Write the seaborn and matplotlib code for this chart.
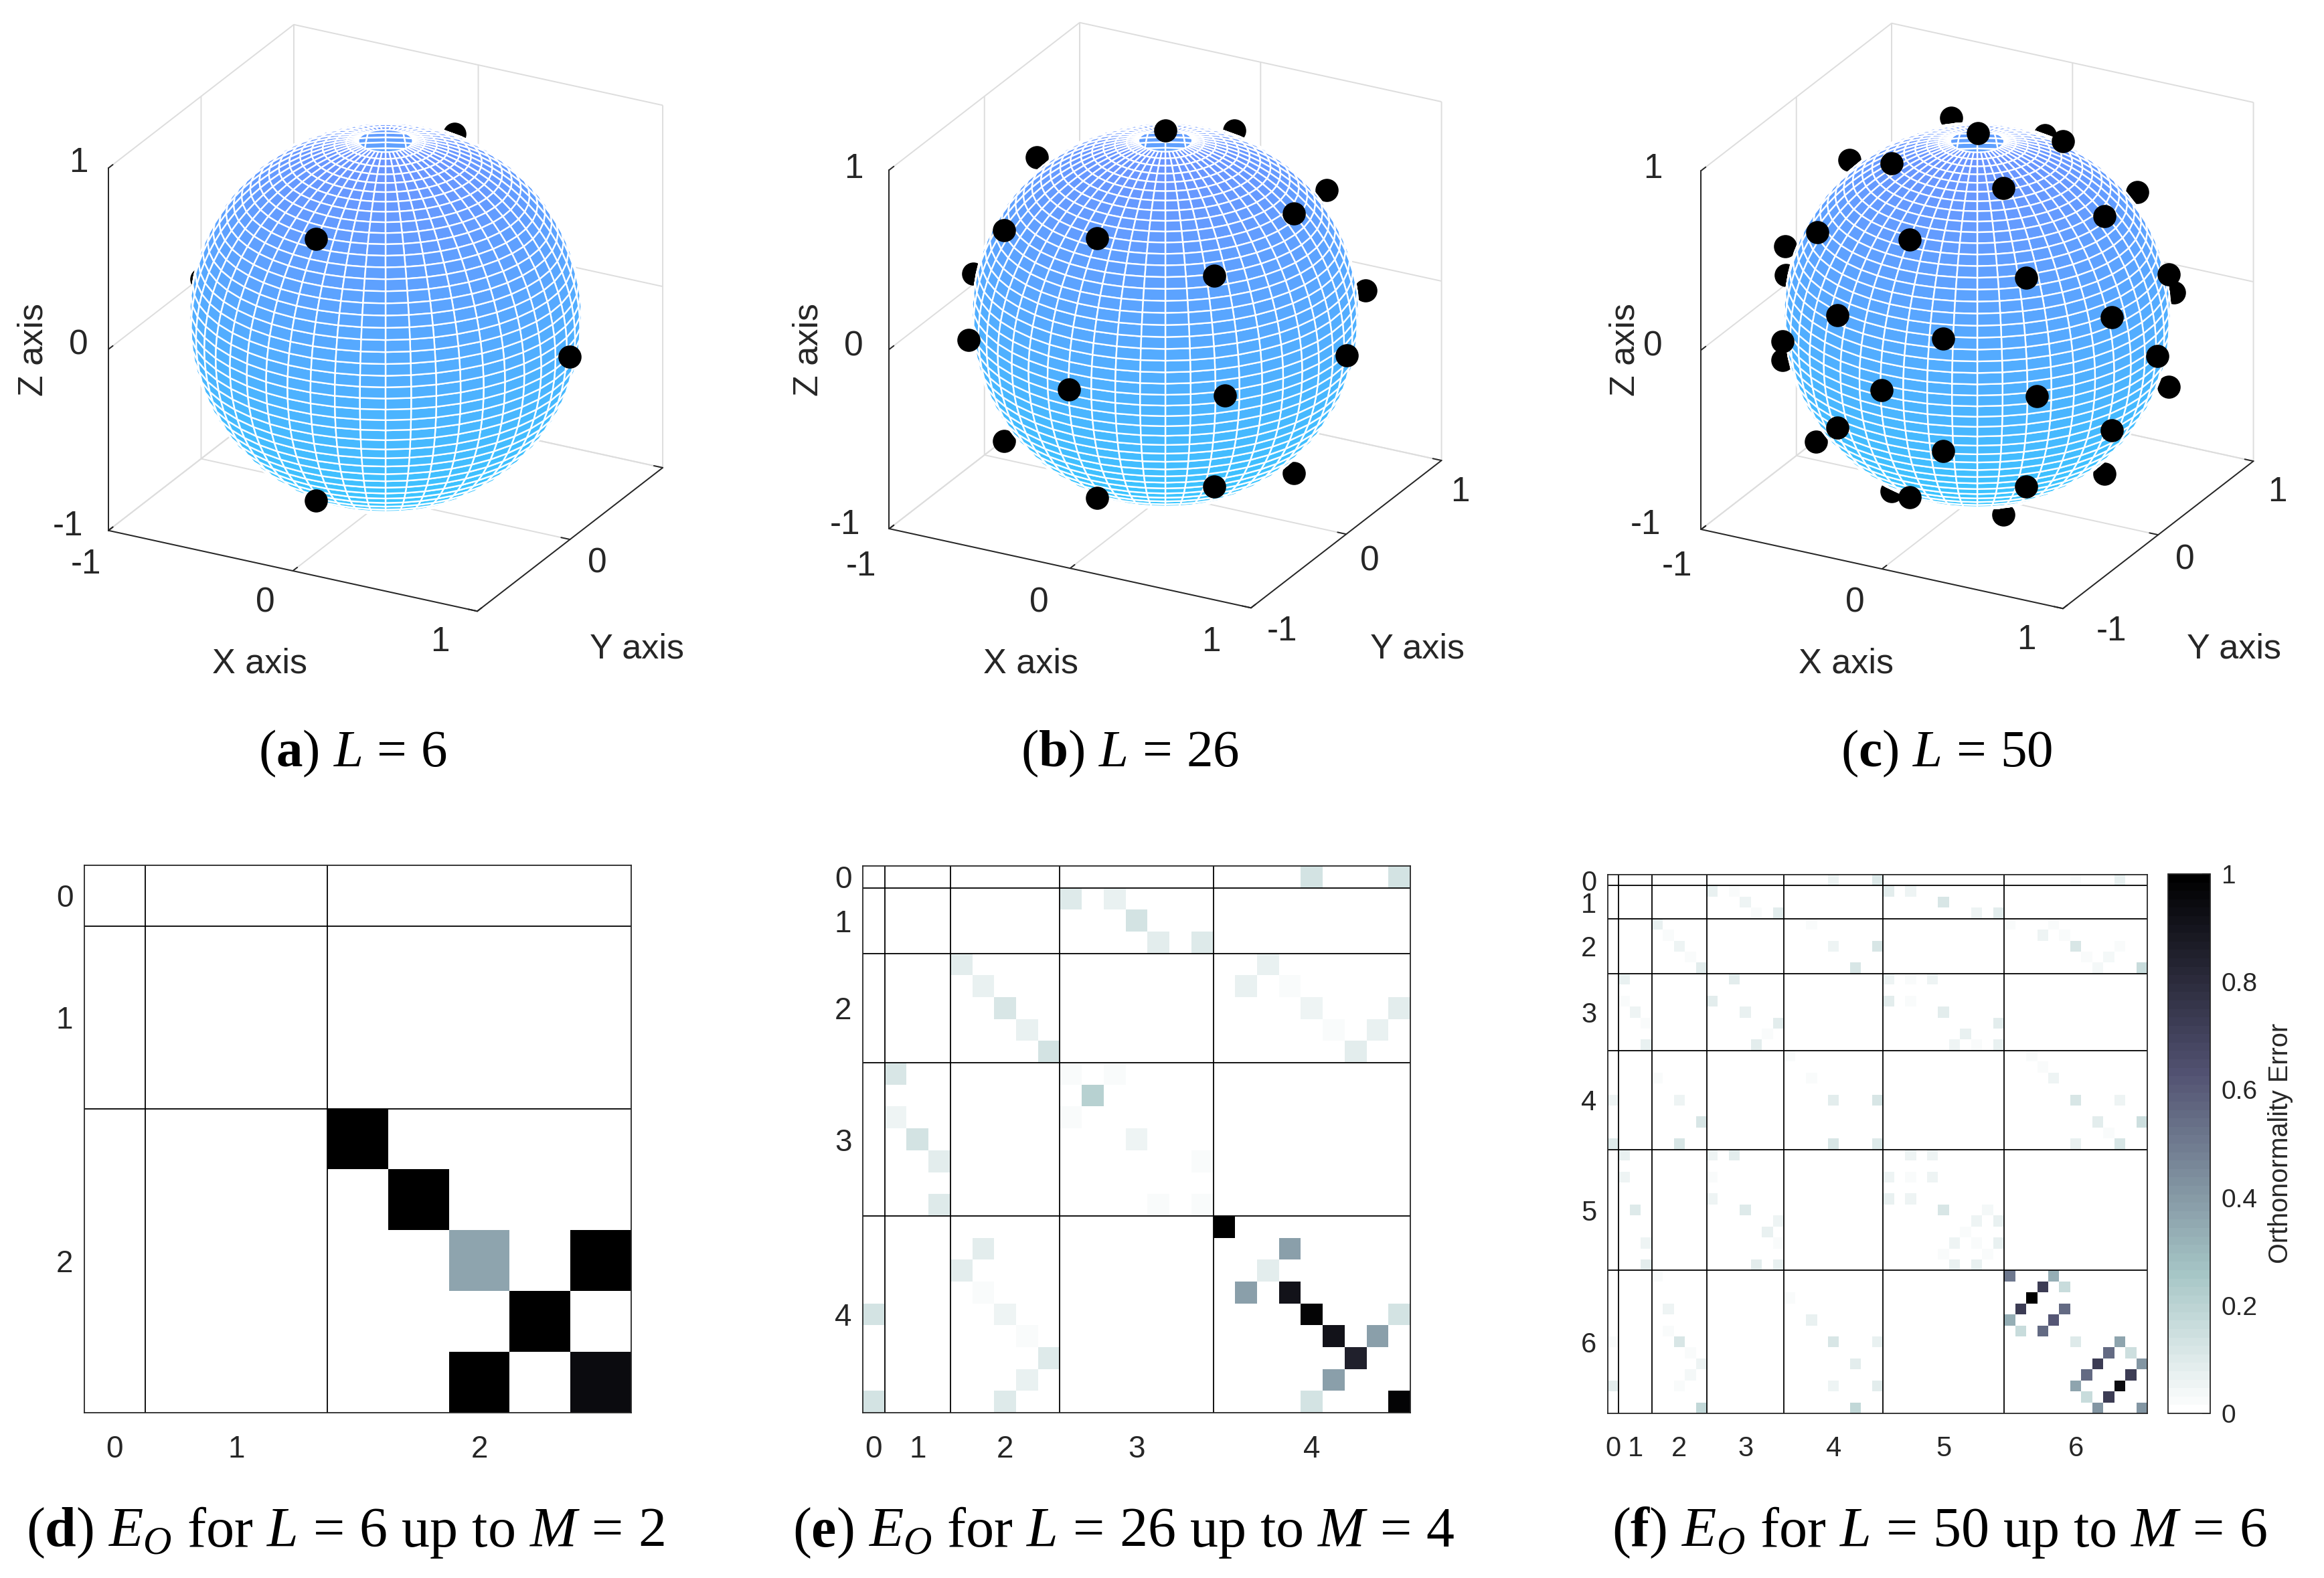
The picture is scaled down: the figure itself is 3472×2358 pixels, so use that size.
"""Sampling nodes on the sphere and orthonormality error matrices."""

from __future__ import annotations

import matplotlib

matplotlib.use("Agg")
import matplotlib.pyplot as plt
import numpy as np
import seaborn as sns
from matplotlib.colors import Normalize

WIDTH, HEIGHT = 3473, 2358
DARK = "#262626"

# Nodes as seen on the picture: right and up from the sphere centre, in sphere radii.
NODES_A_RIGHT = [-0.355, 0.938, -0.355]
NODES_A_UP = [0.403, -0.198, -0.932]
HIDDEN_A_RIGHT = [0.352, 0.355, -0.938]
HIDDEN_A_UP = [0.938, -0.403, 0.198]

NODES_B_RIGHT = [0.0, 0.663, -0.353, -0.832, 0.253, -1.016, 0.938, -0.499, 0.309, 0.253, -0.353]
NODES_B_UP = [0.955, 0.526, 0.397, 0.439, 0.204, -0.127, -0.206, -0.384, -0.415, -0.884, -0.943]
HIDDEN_B_RIGHT = [0.355, -0.663, 0.832, 1.034, -0.832, 0.663, -0.992]
HIDDEN_B_UP = [0.955, 0.816, 0.648, 0.129, -0.650, -0.817, 0.213]

NODES_C_RIGHT = [0.002, -0.443, 0.134, 0.658, -0.827, -0.351, 0.252, -0.723, 0.696, -0.176, 0.931,
                 -1.007, -0.495, 0.307, -0.723, 0.696, -0.176, 0.252, -0.351, 0.988, 0.443]
NODES_C_UP = [0.946, 0.788, 0.661, 0.517, 0.434, 0.393, 0.198, 0.002, -0.007, -0.117, -0.207,
              -0.132, -0.385, -0.415, -0.578, -0.590, -0.700, -0.883, -0.939, 0.215, 0.902]
HIDDEN_C_RIGHT = [-0.136, 0.349, -0.661, -0.993, 1.017, 0.827, -1.007, 0.988, -0.832, 0.658, -0.443, 0.134, -0.99]
HIDDEN_C_UP = [1.024, 0.934, 0.805, 0.361, 0.122, 0.641, -0.229, -0.366, -0.651, -0.815, -0.907, -1.029, 0.21]

# Error matrices: (row, column, value), everything else is 0.
CELLS_D = [(4, 4, 1.0), (5, 5, 1.0), (6, 6, 0.37), (6, 8, 1.0), (7, 7, 1.0), (8, 6, 1.0), (8, 8, 0.95)]
CELLS_E = [
    (0, 20, 0.13), (0, 24, 0.13), (1, 9, 0.1), (1, 11, 0.07), (2, 12, 0.13), (3, 13, 0.08), (3, 15, 0.1),
    (4, 4, 0.08), (4, 18, 0.07), (5, 5, 0.07), (5, 17, 0.07), (5, 19, 0.03), (6, 6, 0.12), (6, 20, 0.06),
    (6, 24, 0.08), (7, 7, 0.07), (7, 21, 0.03), (7, 23, 0.07), (8, 8, 0.13), (8, 22, 0.09), (9, 1, 0.11),
    (9, 9, 0.03), (9, 11, 0.03), (10, 10, 0.21), (11, 1, 0.06), (11, 9, 0.03), (11, 11, 0.015), (12, 2, 0.13),
    (12, 12, 0.06), (13, 3, 0.08), (13, 13, 0.015), (13, 15, 0.03), (15, 3, 0.1), (15, 13, 0.03), (15, 15, 0.03),
    (16, 16, 1.0), (17, 5, 0.08), (17, 17, 0.015), (17, 19, 0.38), (18, 4, 0.08), (18, 18, 0.09), (19, 5, 0.03),
    (19, 17, 0.38), (19, 19, 0.92), (20, 0, 0.14), (20, 6, 0.05), (20, 20, 0.98), (20, 24, 0.14), (21, 7, 0.03),
    (21, 21, 0.92), (21, 23, 0.38), (22, 8, 0.1), (22, 22, 0.85), (23, 7, 0.07), (23, 21, 0.38), (23, 23, 0.015),
    (24, 0, 0.13), (24, 6, 0.1), (24, 20, 0.13), (24, 24, 0.97),
]
CELLS_F = [
    (0, 20, 0.05), (0, 24, 0.1), (0, 42, 0.02), (0, 46, 0.07),
    (1, 9, 0.07), (1, 11, 0.03), (1, 25, 0.08), (1, 27, 0.06), (1, 29, 0.015),
    (2, 12, 0.05), (2, 30, 0.11),
    (3, 13, 0.03), (3, 15, 0.08), (3, 31, 0.015), (3, 33, 0.06), (3, 35, 0.09),
    (4, 4, 0.07), (4, 18, 0.03), (4, 36, 0.03), (4, 40, 0.02),
    (5, 5, 0.03), (5, 39, 0.05), (5, 41, 0.03),
    (6, 6, 0.05), (6, 20, 0.05), (6, 24, 0.11), (6, 42, 0.11), (6, 46, 0.03),
    (7, 7, 0.03), (7, 43, 0.03), (7, 45, 0.04),
    (8, 8, 0.08), (8, 22, 0.11), (8, 44, 0.04), (8, 48, 0.17),
    (9, 1, 0.07), (9, 9, 0.015), (9, 11, 0.08), (9, 25, 0.06), (9, 27, 0.03), (9, 29, 0.05),
    (10, 10, 0.015),
    (11, 1, 0.03), (11, 9, 0.08), (11, 11, 0.015), (11, 25, 0.08), (11, 27, 0.02),
    (12, 2, 0.05), (12, 12, 0.07), (12, 30, 0.08), (12, 34, 0.015),
    (13, 3, 0.03), (13, 13, 0.015), (13, 15, 0.08), (13, 33, 0.015), (13, 35, 0.08),
    (14, 14, 0.03), (14, 32, 0.07),
    (15, 3, 0.07), (15, 13, 0.08), (15, 15, 0.015), (15, 31, 0.05), (15, 33, 0.03), (15, 35, 0.07),
    (16, 16, 0.03), (16, 38, 0.03),
    (17, 17, 0.015), (17, 19, 0.015), (17, 37, 0.015), (17, 39, 0.03), (17, 41, 0.015),
    (18, 4, 0.03), (18, 18, 0.03), (18, 40, 0.06),
    (19, 17, 0.015), (19, 37, 0.015), (19, 39, 0.015), (19, 41, 0.015),
    (20, 0, 0.05), (20, 6, 0.06), (20, 20, 0.08), (20, 24, 0.11), (20, 42, 0.12), (20, 46, 0.05),
    (21, 23, 0.015), (21, 43, 0.015), (21, 45, 0.015), (21, 47, 0.015),
    (22, 8, 0.12), (22, 22, 0.015), (22, 44, 0.08), (22, 48, 0.15),
    (23, 21, 0.015), (23, 23, 0.015), (23, 43, 0.015), (23, 45, 0.03), (23, 47, 0.015),
    (24, 0, 0.1), (24, 6, 0.11), (24, 20, 0.11), (24, 24, 0.1), (24, 42, 0.07), (24, 46, 0.11),
    (25, 1, 0.07), (25, 9, 0.06), (25, 11, 0.08), (25, 25, 0.015), (25, 27, 0.06), (25, 29, 0.06),
    (27, 1, 0.06), (27, 9, 0.03), (27, 11, 0.015), (27, 25, 0.06), (27, 27, 0.03), (27, 29, 0.05),
    (28, 28, 0.015),
    (29, 1, 0.015), (29, 9, 0.05), (29, 25, 0.07), (29, 27, 0.05), (29, 29, 0.015),
    (30, 2, 0.1), (30, 12, 0.1), (30, 30, 0.11), (30, 34, 0.04),
    (31, 3, 0.015), (31, 15, 0.05), (31, 31, 0.015), (31, 33, 0.05), (31, 35, 0.07),
    (32, 14, 0.07), (32, 32, 0.03),
    (33, 3, 0.06), (33, 13, 0.015), (33, 15, 0.03), (33, 31, 0.05), (33, 33, 0.03), (33, 35, 0.07),
    (34, 12, 0.015), (34, 30, 0.03), (34, 34, 0.03),
    (35, 3, 0.09), (35, 13, 0.08), (35, 15, 0.07), (35, 31, 0.07), (35, 33, 0.07), (35, 35, 0.015),
    (36, 4, 0.03), (36, 36, 0.5), (36, 40, 0.33),
    (37, 17, 0.015), (37, 19, 0.015), (37, 39, 0.72), (37, 41, 0.16),
    (38, 16, 0.03), (38, 38, 1.0),
    (39, 5, 0.05), (39, 19, 0.015), (39, 37, 0.72), (39, 41, 0.56),
    (40, 4, 0.015), (40, 18, 0.07), (40, 36, 0.33), (40, 40, 0.62),
    (41, 5, 0.03), (41, 17, 0.015), (41, 19, 0.015), (41, 37, 0.16), (41, 39, 0.56), (41, 41, 0.015),
    (42, 0, 0.03), (42, 6, 0.11), (42, 20, 0.11), (42, 24, 0.07), (42, 42, 0.1), (42, 46, 0.37),
    (43, 7, 0.03), (43, 21, 0.015), (43, 43, 0.015), (43, 45, 0.56), (43, 47, 0.15),
    (44, 8, 0.05), (44, 22, 0.08), (44, 44, 0.72), (44, 48, 0.42),
    (45, 7, 0.04), (45, 21, 0.015), (45, 23, 0.015), (45, 43, 0.56), (45, 47, 0.72),
    (46, 0, 0.08), (46, 6, 0.03), (46, 20, 0.05), (46, 24, 0.09), (46, 42, 0.37), (46, 46, 0.95),
    (47, 21, 0.015), (47, 23, 0.015), (47, 43, 0.16), (47, 45, 0.72),
    (48, 8, 0.18), (48, 22, 0.18), (48, 44, 0.42), (48, 48, 0.42),
]

CBAR_TICKS = [0, 0.2, 0.4, 0.6, 0.8, 1]
CBAR_LABELS = ["0", "0.2", "0.4", "0.6", "0.8", "1"]
AXIS_TICKS = [-1, 0, 1]

ELEV, AZIM = 24.3, -62.0
OVERVIEW = 3473 / 1568

# Tick labels of the sphere panels, placed by hand as in the reference (shrunk picture coordinates).
TICK_TEXT_A = [("-1", 58, 381), ("0", 179, 407), ("1", 297, 433), ("0", 403, 380),
               ("1", 53, 110), ("0", 53, 233), ("-1", 46, 355)]
TICK_TEXT_B = [("-1", 581, 382), ("0", 701, 407), ("1", 817, 433), ("-1", 865, 426), ("0", 924, 379),
               ("1", 985, 332), ("1", 576, 114), ("0", 576, 234), ("-1", 570, 354)]
TICK_TEXT_C = [("-1", 1131, 382), ("0", 1251, 407), ("1", 1367, 432), ("-1", 1424, 426), ("0", 1474, 378),
               ("1", 1536, 332), ("1", 1115, 114), ("0", 1115, 234), ("-1", 1110, 354)]


def add_rect(left, top, right, bottom, **kwargs):
    return plt.gcf().add_axes(
        [left / WIDTH, 1 - bottom / HEIGHT, (right - left) / WIDTH, (bottom - top) / HEIGHT], **kwargs
    )


def text_at(x, y, label, **kwargs):
    kwargs.setdefault("color", DARK)
    plt.gcf().text(x / WIDTH, 1 - y / HEIGHT, label, ha="center", va="center", **kwargs)


def view_basis():
    az, el = np.radians(AZIM), np.radians(ELEV)
    right = np.array([-np.sin(az), np.cos(az), 0.0])
    up = np.array([-np.sin(el) * np.cos(az), -np.sin(el) * np.sin(az), np.cos(el)])
    toward = np.array([np.cos(el) * np.cos(az), np.cos(el) * np.sin(az), np.sin(el)])
    return right, up, toward


def to_data(u, v, sign, box):
    right, up, toward = view_basis()
    u, v = np.asarray(u), np.asarray(v)
    w = sign * np.sqrt(np.clip(1.0 - u**2 - v**2, 0.02, None))
    pts = np.outer(u, right) + np.outer(v, up) + np.outer(w, toward)
    return (pts / box).T


def sphere_panel(center, scale, radius, front, hidden):
    cx, cy = center
    side = 1040
    left = cx - side / 2 - 0.0135 * side
    top = cy - side / 2 + 0.0145 * side
    ax = add_rect(left, top, left + side, top + side, projection="3d", computed_zorder=False)
    ax.set_proj_type("ortho")
    ax.view_init(elev=ELEV, azim=AZIM)
    ax.set_facecolor("none")
    scale = np.array(scale, dtype=float)
    box = scale / radius
    ax.set_box_aspect(scale.copy(), zoom=1013 / side * (np.linalg.norm(scale) / 521.6))

    ax.set_xlim(-1, 1, view_margin=0)
    ax.set_ylim(-1, 1, view_margin=0)
    ax.set_zlim(-1, 1, view_margin=0)
    ax.set_xticks(AXIS_TICKS)
    ax.set_yticks(AXIS_TICKS)
    ax.set_zticks(AXIS_TICKS)
    ax.set_xticklabels([])
    ax.set_yticklabels([])
    ax.set_zticklabels([])
    ax.zaxis.set_ticks_position("lower")
    for axis in (ax.xaxis, ax.yaxis, ax.zaxis):
        axis.set_pane_color((1, 1, 1, 0))
        axis.pane.set_edgecolor("#dddddd")
        axis.pane.set_linewidth(1.4)
        axis.line.set_color(DARK)
        axis.line.set_linewidth(1.4)
        axis._axinfo["tick"].update(inward_factor=0.0, outward_factor=0.3, color=DARK)
        axis._axinfo["tick"]["linewidth"] = {True: 1.4, False: 1.0}
        axis.set_tick_params(color=DARK, width=1.4)

    step = 360.0 / 48
    lon = np.radians(AZIM + step * np.arange(49))
    lat = np.radians(np.linspace(-82, 82, 47))
    grid_lon, grid_lat = np.meshgrid(lon, lat)
    sx = np.cos(grid_lat) * np.cos(grid_lon) / box[0]
    sy = np.cos(grid_lat) * np.sin(grid_lon) / box[1]
    sz = np.sin(grid_lat) / box[2]
    colors = plt.get_cmap("cool")(Normalize(-2.82, 6.27)(sz))

    hx, hy, hz = to_data(hidden[0], hidden[1], -1, box)
    ax.scatter(hx, hy, hz, s=620, c="black", depthshade=False, linewidths=0, zorder=3)
    ax.plot_surface(sx, sy, sz, rstride=1, cstride=1, facecolors=colors, edgecolor="white",
                    linewidth=1.7, shade=False, zorder=4)
    fx, fy, fz = to_data(front[0], front[1], 1, box)
    ax.scatter(fx, fy, fz, s=620, c="black", depthshade=False, linewidths=0, zorder=5)
    return ax


def heatmap_panel(rect, n, cells, blocks, ticks, labelsize, cbar_ax=None):
    ax = add_rect(*rect)
    matrix = np.zeros((n, n))
    for row, col, value in cells:
        matrix[row, col] = value
    sns.heatmap(matrix, ax=ax, cmap=plt.get_cmap("bone_r", 64), vmin=0, vmax=1, square=False,
                xticklabels=False, yticklabels=False, cbar=cbar_ax is not None, cbar_ax=cbar_ax)
    ax.hlines(blocks, 0, n, color="black", linewidth=1.3)
    ax.vlines(blocks, 0, n, color="black", linewidth=1.3)
    ax.set_xticks(ticks)
    ax.set_yticks(ticks)
    ax.set_xticklabels(range(len(ticks)))
    ax.set_yticklabels(range(len(ticks)), rotation=0)
    ax.tick_params(direction="in", length=9, width=1.2, color=DARK, top=True, right=True, bottom=True, left=True,
                   labelsize=labelsize, labelcolor=DARK)
    ax.tick_params(axis="x", pad=24)
    ax.tick_params(axis="y", pad=12)
    for spine in ax.spines.values():
        spine.set_visible(True)
        spine.set_color(DARK)
        spine.set_linewidth(1.3)
    return ax


def main() -> int:
    sns.set_theme(style="white")
    plt.rcParams["font.family"] = ["Liberation Sans", "DejaVu Sans"]
    plt.rcParams["mathtext.fontset"] = "custom"
    plt.rcParams["mathtext.rm"] = "Liberation Serif"
    plt.rcParams["mathtext.it"] = "Liberation Serif:italic"
    plt.rcParams["mathtext.bf"] = "Liberation Serif:bold"
    plt.rcParams["grid.color"] = "#dddddd"
    plt.rcParams["grid.linewidth"] = 1.4
    plt.rcParams["axes3d.grid"] = True
    plt.figure(figsize=(WIDTH / 100, HEIGHT / 100), dpi=100, facecolor="white")

    sphere_panel((576, 474), (312, 295, 297), 293, (NODES_A_RIGHT, NODES_A_UP), (HIDDEN_A_RIGHT, HIDDEN_A_UP))
    sphere_panel((1741, 470), (306, 303, 294), 289, (NODES_B_RIGHT, NODES_B_UP), (HIDDEN_B_RIGHT, HIDDEN_B_UP))
    sphere_panel((2954, 471), (306, 303, 294), 289, (NODES_C_RIGHT, NODES_C_UP), (HIDDEN_C_RIGHT, HIDDEN_C_UP))

    for label, x, y in TICK_TEXT_A + TICK_TEXT_B + TICK_TEXT_C:
        text_at(x * OVERVIEW, y * OVERVIEW, label, fontsize=37)

    for x, y, label, rotation in [
        (388, 992, "X axis", 0), (952, 970, "Y axis", 0), (50, 522, "Z axis", 90),
        (1540, 992, "X axis", 0), (2118, 970, "Y axis", 0), (1208, 522, "Z axis", 90),
        (2758, 992, "X axis", 0), (3338, 970, "Y axis", 0), (2428, 522, "Z axis", 90),
    ]:
        text_at(x, y, label, fontsize=37.5, rotation=rotation)

    heatmap_panel((126, 1293, 943, 2111), 9, CELLS_D, [1, 4], [0.5, 2.5, 6.5], 33)
    heatmap_panel((1289, 1294, 2107, 2111), 25, CELLS_E, [1, 4, 9, 16], [0.5, 2.5, 6.5, 12.5, 20.5], 33)
    cax = add_rect(3239, 1306, 3302, 2112)
    heat = heatmap_panel((2402, 1307, 3208, 2112), 49, CELLS_F, [1, 4, 9, 16, 25, 36],
                         [0.5, 2.5, 6.5, 12.5, 20.5, 30.5, 42.5], 30, cbar_ax=cax)
    colorbar = heat.collections[0].colorbar
    colorbar.set_ticks(CBAR_TICKS, labels=CBAR_LABELS)
    colorbar.outline.set_visible(True)
    colorbar.outline.set_edgecolor(DARK)
    colorbar.outline.set_linewidth(1.3)
    cax.tick_params(direction="in", length=9, width=1.2, color=DARK, labelsize=28, labelcolor=DARK, right=True, pad=12)
    text_at(3407, 1708, "Orthonormality Error", fontsize=28.5, rotation=90)

    for x, y, label, size in [
        (527, 1126, r"($\mathbf{a}$) $L\/=\/6$", 57),
        (1688, 1126, r"($\mathbf{b}$) $L\/=\/26$", 57),
        (2908, 1126, r"($\mathbf{c}$) $L\/=\/50$", 57),
        (516, 2290, r"($\mathbf{d}$) $E_O$ for $L\/=\/6$ up to $M\/=\/2$", 60.5),
        (1679, 2290, r"($\mathbf{e}$) $E_O$ for $L\/=\/26$ up to $M\/=\/4$", 60.5),
        (2897, 2290, r"($\mathbf{f}$) $E_O$ for $L\/=\/50$ up to $M\/=\/6$", 60.5),
    ]:
        text_at(x, y, label, fontsize=size, color="black", family="Liberation Serif")

    plt.savefig("out.png", dpi=100, facecolor="white")
    plt.close()
    return 0


if __name__ == "__main__":
    raise SystemExit(main())
